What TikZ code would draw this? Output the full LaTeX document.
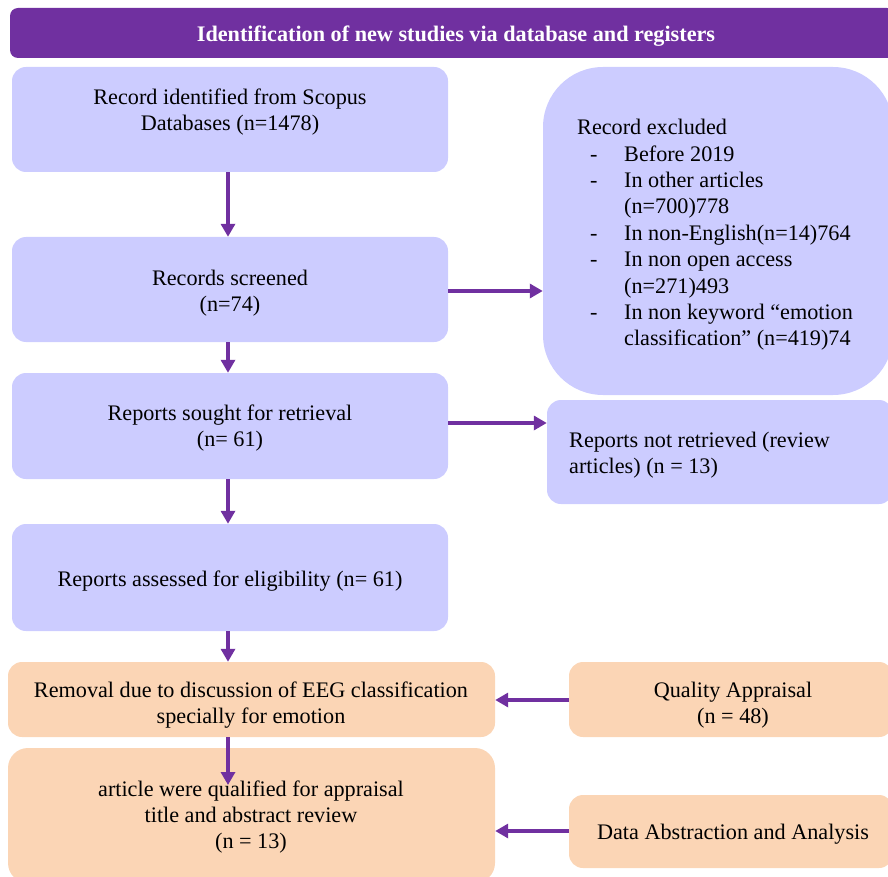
\documentclass[tikz,border=0pt]{standalone}
\usepackage{fontspec}
\setmainfont{Liberation Serif}
\usetikzlibrary{arrows.meta}
\definecolor{hdr}{HTML}{7030A0}
\definecolor{lav}{HTML}{CCCCFF}
\definecolor{peach}{HTML}{FBD5B5}
\tikzset{
  lbox/.style={fill=lav, draw=none, rounded corners=14pt, inner sep=0pt},
  obox/.style={fill=peach, draw=none, rounded corners=14pt, inner sep=0pt},
  txt/.style={align=center, inner sep=0pt, font=\fontsize{22.2}{26.4}\selectfont},
  conn/.style={draw=hdr, line width=3.5pt, -{Triangle[length=13pt,width=14pt]}},
}
\begin{document}
\begin{tikzpicture}[x=1pt,y=-1pt]
\useasboundingbox (0,0) rectangle (888,877);
% header
\node[fill=hdr, rounded corners=8pt, minimum width=885pt, minimum height=50pt, inner sep=0pt] (hd) at (452.5,33) {};
\node[inner sep=0pt, text=white, font=\fontsize{22.2}{26}\selectfont\bfseries] (hdt) at (456,36.5) {Identification of new studies via database and registers};
% left column
\node[lbox, minimum width=436pt, minimum height=105pt] (b1) at (230,119.5) {};
\node[txt] (t1) at (230,112) {Record identified from Scopus\\Databases (n=1478)};
\node[lbox, minimum width=436pt, minimum height=105pt] (b2) at (230,289.5) {};
\node[txt] (t2) at (230,293) {Records screened\\(n=74)};
\node[lbox, minimum width=436pt, minimum height=106pt] (b3) at (230,426) {};
\node[txt] (t3) at (230,428) {Reports sought for retrieval\\(n= 61)};
\node[lbox, minimum width=436pt, minimum height=107pt] (b4) at (230,577.5) {};
\node[txt] (t4) at (230,581) {Reports assessed for eligibility (n= 61)};
\node[obox, minimum width=487pt, minimum height=75pt] (b5) at (251.5,699.5) {};
\node[txt] (t5) at (251,705) {Removal due to discussion of EEG classification\\specially for emotion};
\node[obox, rounded corners=20pt, minimum width=487pt, minimum height=135pt] (b6) at (251.5,815.5) {};
\node[txt] (t6) at (251,817) {article were qualified for appraisal\\title and abstract review\\(n = 13)};
% right column
\node[lbox, rounded corners=60pt, minimum width=350pt, minimum height=328pt] (ex) at (718,231) {};
\node[inner sep=0pt, anchor=north west, font=\fontsize{22.2}{26.4}\selectfont] (ext) at (577,116) {%
\begin{tabular}{@{\hspace{13pt}}p{34pt}@{}l@{}}
\multicolumn{2}{@{}l@{}}{Record excluded}\\
- & Before 2019\\
- & In other articles\\
  & (n=700)778\\
- & In non-English(n=14)764\\
- & In non open access\\
  & (n=271)493\\
- & In non keyword “emotion\\
  & classification” (n=419)74
\end{tabular}};
\node[lbox, minimum width=346pt, minimum height=104pt] (nr) at (720,452) {};
\node[txt, align=left, anchor=west] (nrt) at (569,455) {Reports not retrieved (review\\articles) (n = 13)};
\node[obox, minimum width=324pt, minimum height=75pt] (qa) at (731,699.5) {};
\node[txt] (qat) at (733,705) {Quality Appraisal\\(n = 48)};
\node[obox, minimum width=324pt, minimum height=73pt] (da) at (731,831.5) {};
\node[txt] (dat) at (733,834) {Data Abstraction and Analysis};
% connectors
\coordinate (a5end) at (228,785);
\draw[conn] (b1.south -| 228,0) -- (b2.north -| 228,0);
\draw[conn] (b2.south -| 228,0) -- (b3.north -| 228,0);
\draw[conn] (b3.south -| 228,0) -- (b4.north -| 228,0);
\draw[conn] (b4.south -| 228,0) -- (b5.north -| 228,0);
\draw[conn] (b5.south -| 228,0) -- (a5end);
\draw[conn] (b2.east |- 0,291) -- (ex.west |- 0,291);
\draw[conn] (b3.east |- 0,423) -- (nr.west |- 0,423);
\draw[conn] (qa.west |- 0,700) -- (b5.east |- 0,700);
\draw[conn] (da.west |- 0,831) -- (b6.east |- 0,831);
\end{tikzpicture}
\end{document}
